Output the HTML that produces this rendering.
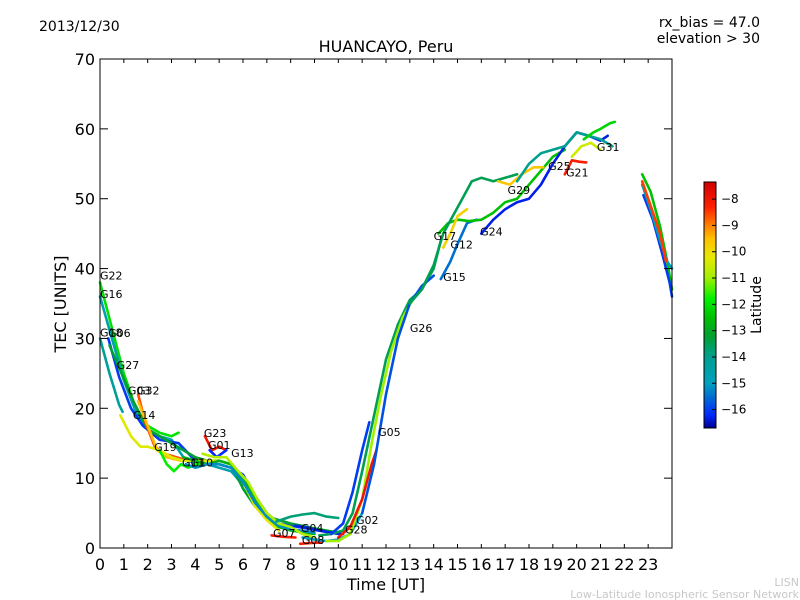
<!DOCTYPE html>
<html><head><meta charset="utf-8"><style>
html,body{margin:0;padding:0;background:#fff;}
svg{display:block;font-family:"DejaVu Sans","Liberation Sans",sans-serif;}
</style></head><body>
<svg id="chart" width="800" height="600" viewBox="0 0 800 600">
<g id="plot"></g>
</svg>
<script>
const hourTicks=[0,1,2,3,4,5,6,7,8,9,10,11,12,13,14,15,16,17,18,19,20,21,22,23];
const tecTicks=[0,10,20,30,40,50,60,70];
const latTicks=[-8,-9,-10,-11,-12,-13,-14,-15,-16];
const trackNames=["G22","G16","G18","G06","G27","G03","G32","G14","G19","G11","G10","G23","G01","G13","","G07","G04","G08","","G28","G02","G05","","G26","G15","G17","G12","","G24","G29","G25","G21","G31","","","","",""];
const trackLats=[-12,-14.6,-14.2,-16,-13.2,-8.6,-9.5,-10.3,-11.8,-12.8,-15.2,-8,-16.2,-10.8,-13.8,-8.2,-16.3,-8.2,-15,-13.5,-11,-16,-8,-15.8,-15.5,-12.5,-9.8,-13.5,-16.3,-9.6,-14,-8.2,-12.2,-10.5,-12.5,-16,-14.8,-8.5];
const labelHour=[0,0,0,0.34,0.7,1.17,1.55,1.38,2.27,3.44,3.8,4.36,4.53,5.5,0,7.26,8.43,8.47,0,10.28,10.74,11.67,0,13.0,14.4,14.0,14.7,0,15.95,17.1,18.8,19.55,20.85,0,0,0,0,0];
const labelTec=[38.4,35.8,30.3,30.2,25.6,22,22,18.5,13.9,11.7,11.7,15.9,14.2,13,0,1.6,2.3,0.6,0,2.1,3.4,16,0,30.9,38.2,44.1,42.9,0,44.7,50.7,54.1,53.2,56.8,0,0,0,0,0];
const trackHours=[
[0,0.5,1,1.5,2,2.5,3,3.3],
[0,0.5,1,1.5,2,2.5,3,3.5,4,4.5,5,5.5,6],
[0,0.4,0.8,0.95],
[0.35,0.8,1.3,1.8,2.5,3.3,4,4.5,5,5.5,6,6.5,7,7.5,8,9,10],
[0.4,0.9,1.4,2,2.5,3,3.5,4,4.5,5,5.5,6,6.5,7,8,9,10],
[1.6,1.9,2.3,2.7,3.2,3.7],
[1.6,2,2.4,2.8,3.4],
[0.85,1.3,1.7,2,2.5,3,3.5,4,4.5,5,5.5,6,6.5,7,7.5],
[2.5,2.8,3.1,3.4,3.7,4,4.3],
[3.5,4,4.5,5,5.5,6,6.5,7,7.5,8,9],
[3.6,4,4.5,5,5.5,6,6.5,7,7.5,8,9],
[4.4,4.7,5,5.3],
[4.6,4.9,5.3],
[4.3,4.8,5.3,5.8,6.2,6.6,7,7.5,8,8.5,9],
[7.4,8,8.5,9,9.5,10],
[7.2,7.7,8.2],
[8.2,8.7,9.2,9.7,10.2],
[8.4,8.8,9.3],
[8.5,9,9.5,10,10.5,11],
[9.2,9.7,10.2,10.6,11,11.5,12,12.5,13,13.5,14,14.3],
[9.5,10,10.5,11,11.4,11.8,12.2,12.7,13.2],
[9.7,10.2,10.6,11,11.3],
[10,10.5,11,11.4,11.6],
[11,11.5,12,12.5,13,13.5,14],
[14.3,14.7,15,15.4,15.8],
[14.2,14.6,15,15.5,16,16.5,17,17.5,18,18.5,19,19.5],
[14.4,14.7,15,15.4],
[13,13.5,14,14.4,14.8,15.2,15.6,16,16.5,17,17.5],
[16,16.5,17,17.5,18,18.5,19,19.5,20,20.5,21,21.3],
[16.7,17.2,17.7,18.2,18.6],
[17.5,18,18.5,19,19.5,20,20.5,21,21.5],
[19.5,19.8,20.1,20.4],
[20.3,20.7,21,21.4,21.6],
[19.8,20.2,20.6,21],
[22.75,23.1,23.5,23.8,24],
[22.8,23.2,23.6,23.9,24],
[22.75,23.1,23.5,23.8,24],
[22.75,23.1,23.5,23.75]
];
const trackTec=[
[38,31.5,25,20,17.5,16.5,16,16.5],
[36,30,24,19.5,17,16,15.5,13,12,12,11.5,11,9],
[30,25,20.5,19.5],
[30,24.5,20,17.5,15.5,15,12.5,12,12,11.5,10.5,7.5,5,3.5,3.2,2.6,2],
[29,25,21,17,16,15,14,13,12.5,12.5,12,8.5,6,4.5,3.5,2.8,2.2],
[22,18,14.5,13.5,13,12.5],
[21,17.5,14,13,12.5],
[19,16,14.5,14.5,14,13,12.5,12.5,12.5,12.5,12,9.5,6,4,2.5],
[14,12,11,12,11.5,12,12],
[13,12.5,12,12.5,12,10,7,4.5,3,2.5,2],
[12,11.5,12,12,11.5,9.5,6.5,4.5,3.2,2.7,2.2],
[16,14,14.5,14],
[14,13,14],
[13.5,13,13,11,9.5,7,5,3.5,3,2,1.5],
[3.8,4.5,4.8,5,4.5,4.3],
[1.8,1.6,1.5],
[3.2,2.9,2.5,2.2,2],
[0.6,0.7,0.8],
[1.5,1.2,1,1.2,2,5],
[1.8,2,2.5,5,11,19,27,32,35.5,37,40,44],
[1,1,2,7,15,22,28,33,36],
[2,3.5,8,14,18],
[1.5,3,7,12,14],
[5,12,22,30,35,37.5,39],
[38.5,41,43.5,46.5,47],
[45,46.5,47,46.8,47,48,49.5,50,52,54,56,57],
[43,45,47.5,48.5],
[35,37,40.5,45,47.5,50,52.5,53,52.5,53,53.5],
[45,47,48.5,49.5,50,52,55,57.5,59.5,59,58.3,59],
[52.5,52,53.5,54.5,54.5],
[52.5,55,56.5,57,57.5,59.5,59,58.5,57.5],
[53.5,55.5,55.3,55.2],
[58.5,59.5,60,60.8,61],
[56,57.5,58,57],
[53.5,51,46,41,37],
[50.5,47,42,38,36],
[52,48.5,44,41,40],
[52.5,49,45,41]
];
const cbStops=[[-16.7,[0,0,143]],[-16.2,[0,40,255]],[-15.5,[0,112,208]],[-15,[0,160,192]],[-14,[0,160,144]],[-13.2,[0,160,48]],[-12.5,[0,192,0]],[-11.8,[0,240,0]],[-11,[160,240,0]],[-10.2,[232,232,0]],[-9.5,[255,192,0]],[-9,[255,128,0]],[-8.3,[255,32,0]],[-7.35,[208,0,0]]];
const NS="http://www.w3.org/2000/svg";
const svg=document.getElementById('chart');
const X0=100,X1=672,Y0=548,Y1=59;
const xs=h=>X0+h*(X1-X0)/24;
const ys=v=>Y0-v*(Y0-Y1)/70;
const CBX=704,CBW=12,CBT=182,CBB=428,LMIN=-16.7,LMAX=-7.35;
const cy=l=>CBB-(l-LMIN)*(CBB-CBT)/(LMAX-LMIN);
function col(l){
 if(l<=cbStops[0][0])return 'rgb('+cbStops[0][1]+')';
 for(let i=1;i<cbStops.length;i++){if(l<=cbStops[i][0]){const a=cbStops[i-1],b=cbStops[i],t=(l-a[0])/(b[0]-a[0]);
 return 'rgb('+a[1].map((c,k)=>Math.round(c+(b[1][k]-c)*t)).join(',')+')';}}
 return 'rgb('+cbStops[cbStops.length-1][1]+')';}
function mk(tag,attrs,parent){const e=document.createElementNS(NS,tag);for(const k in attrs)e.setAttribute(k,attrs[k]);(parent||svg).appendChild(e);return e;}
function txt(s,x,y,size,anchor,parent){const t=mk('text',{x:x,y:y,'font-size':size,'text-anchor':anchor||'start',fill:'#000'},parent);t.textContent=s;return t;}
const plot=document.getElementById('plot');
for(let i=0;i<trackHours.length;i++){
 const pts=trackHours[i].map((h,j)=>xs(h).toFixed(1)+','+ys(trackTec[i][j]).toFixed(1)).join(' ');
 const p=mk('polyline',{points:pts,fill:'none',stroke:col(trackLats[i]),'stroke-width':2.6,'stroke-linejoin':'round','stroke-linecap':'round'},plot);
 
 
}
for(let i=0;i<trackNames.length;i++){
 if(!trackNames[i])continue;
 const t=txt(trackNames[i],xs(labelHour[i]),ys(labelTec[i]),11,'start',plot);
 
 
}
const fr=mk('rect',{x:X0,y:Y1,width:X1-X0,height:Y0-Y1,fill:'none',stroke:'#000','stroke-width':1});

hourTicks.forEach(h=>{const x=xs(h);
 mk('line',{x1:x,y1:Y0,x2:x,y2:Y0-4,stroke:'#000'});mk('line',{x1:x,y1:Y1,x2:x,y2:Y1+4,stroke:'#000'});
 const t=txt(String(h),x,Y0+22,16,'middle');});
tecTicks.forEach(v=>{const y=ys(v);
 mk('line',{x1:X0,y1:y,x2:X0+8,y2:y,stroke:'#000'});mk('line',{x1:X1,y1:y,x2:X1-8,y2:y,stroke:'#000'});
 const t=txt(String(v),X0-5,y+6,16,'end');});
const defs=mk('defs',{});const g=mk('linearGradient',{id:'cbg',x1:0,y1:1,x2:0,y2:0},defs);
cbStops.forEach(s=>mk('stop',{offset:((s[0]-LMIN)/(LMAX-LMIN)).toFixed(3),'stop-color':'rgb('+s[1]+')'},g));
const cb=mk('rect',{x:CBX,y:CBT,width:CBW,height:CBB-CBT,fill:'url(#cbg)',stroke:'#000','stroke-width':1});

latTicks.forEach(l=>{const y=cy(l);mk('line',{x1:CBX+CBW-4,y1:y,x2:CBX+CBW,y2:y,stroke:'#000'});
 const t=txt('\u2212'+Math.abs(l),CBX+CBW+5,y+4,12,'start');});
const lt=txt('Latitude',0,0,14,'middle');lt.setAttribute('transform','translate(761,305) rotate(-90)');

let t;
t=txt('HUANCAYO, Peru',386,52,16,'middle');
t=txt('2013/12/30',39,31,14,'start');
t=txt('rx_bias = 47.0',760,27,14,'end');
t=txt('elevation > 30',760,43,14,'end');
t=txt('Time [UT]',386,590,16,'middle');
t=txt('TEC [UNITS]',0,0,16,'middle');t.setAttribute('transform','translate(66,304) rotate(-90)');
t=txt('LISN',799,586,11,'end');t.setAttribute('fill','#c8c8c8');
t=txt('Low-Latitude Ionospheric Sensor Network',799,598,11,'end');t.setAttribute('fill','#c8c8c8');
</script>
</body></html>
